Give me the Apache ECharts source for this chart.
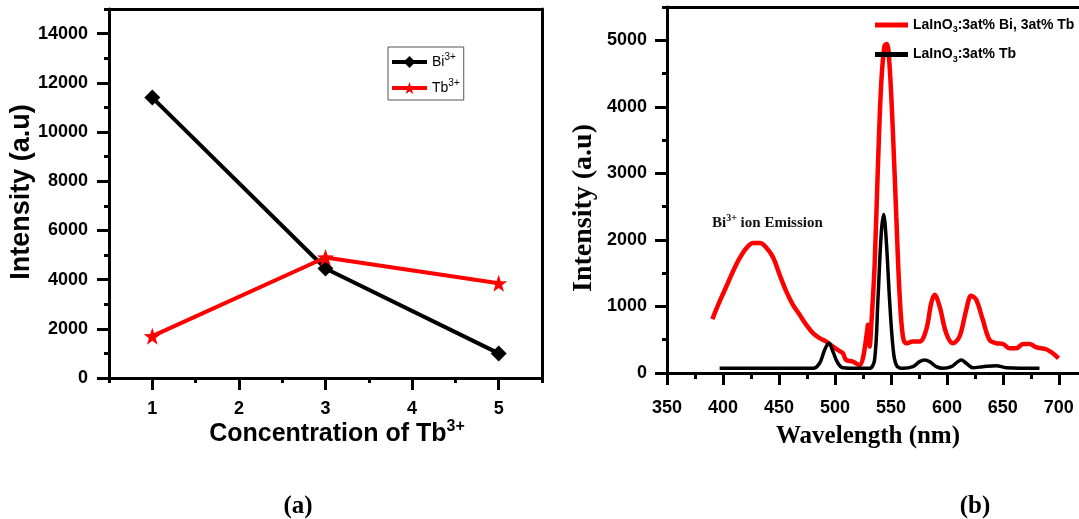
<!DOCTYPE html>
<html>
<head>
<meta charset="utf-8">
<script src="https://cdn.jsdelivr.net/npm/echarts@6/dist/echarts.min.js"></script>
<style>
  html, body { margin: 0; padding: 0; background: #fff; }
  #main { width: 1079px; height: 519px; }
</style>
</head>
<body>
<div id="main"></div>
<script>
// (a) intensity vs Tb concentration
var concentration = [1, 3, 5];
var biIntensity = [11400, 4450, 1000];
var tbIntensity = [1700, 4900, 3850];
var leftXMajor = [1, 2, 3, 4, 5];
var leftYMajor = [0, 2000, 4000, 6000, 8000, 10000, 12000, 14000];

// (b) emission spectra
var redWavelength = [390.5, 397, 403, 409, 415, 421, 427, 433, 439, 445, 450.6, 456.5, 462.5, 468.5, 474.4, 480.4, 486.3, 492.3, 498.2, 504.2, 507, 510, 516, 522, 525, 528.5, 529.5, 531, 532.4, 535.4, 538.4, 541.4, 544.3, 546.4, 548.8, 551.8, 554.8, 557.7, 560.7, 563.7, 569.6, 575.6, 581.5, 586, 589, 593.5, 599.4, 605.4, 611.3, 617.3, 621.7, 626.2, 632.1, 638.1, 644, 650, 656, 662, 668, 673.8, 679.8, 688.7, 694.6, 699.7];
var redIntensity = [809, 1075, 1300, 1528, 1729, 1879, 1955, 1955, 1879, 1729, 1477, 1226, 1025, 874, 724, 598, 523, 472, 397, 330, 300, 196, 171, 121, 221, 598, 724, 397, 698, 1603, 3110, 4367, 4920, 4945, 4618, 3613, 2357, 1201, 548, 447, 472, 472, 648, 1050, 1176, 1000, 598, 447, 548, 950, 1161, 1100, 799, 497, 447, 437, 372, 372, 437, 437, 387, 357, 296, 221];
var blackWavelength = [397, 440, 480.4, 486.3, 490.8, 494.6, 498.2, 502.7, 507, 522, 531, 535.4, 538.4, 541.4, 543.5, 545.8, 548.8, 551.8, 554.8, 560.7, 569.6, 575.6, 580, 584.5, 590.5, 596.4, 604, 609.8, 612.8, 617.3, 623.2, 632.1, 644, 653, 682.7];
var blackIntensity = [70, 70, 70, 146, 347, 450, 322, 146, 80, 70, 70, 196, 1100, 2105, 2382, 2005, 1100, 397, 121, 70, 95, 171, 196, 171, 95, 70, 95, 171, 196, 146, 80, 95, 110, 80, 70];
var rightXMajor = [350, 400, 450, 500, 550, 600, 650, 700];
var rightYMajor = [0, 1000, 2000, 3000, 4000, 5000];

function pairs(xs, ys) {
  var out = [];
  for (var i = 0; i < xs.length; i++) out.push([xs[i], ys[i]]);
  return out;
}

var SANS = '"Liberation Sans", Arial, sans-serif';
var SERIF = '"Liberation Serif", "Times New Roman", serif';
var black = '#000';
var axisLine = { show: true, onZero: false, lineStyle: { color: black, width: 3 } };
var tickLabel = { color: black, fontFamily: SANS, fontWeight: 'bold', fontSize: 18 };
var starPath = 'path://M0,-10 L2.35,-3.2 L9.5,-3.1 L3.8,1.2 L5.9,8.1 L0,4 L-5.9,8.1 L-3.8,1.2 L-9.5,-3.1 L-2.35,-3.2 Z';

var legendNames = {
  'Bi3+': 'Bi{sup|3+}',
  'Tb3+': 'Tb{sup|3+}',
  'LaInO3:3at% Bi, 3at% Tb': 'LaInO{sub|3}:3at% Bi, 3at% Tb',
  'LaInO3:3at% Tb': 'LaInO{sub|3}:3at% Tb'
};

var option = {
  animation: false,
  backgroundColor: '#fff',
  grid: [
    { left: 109, top: 9, width: 433, height: 369 },
    { left: 667, top: 7, width: 412, height: 366 }
  ],
  xAxis: [
    { // (a) main
      gridIndex: 0, type: 'value', position: 'bottom', min: 0.5, max: 5.5, interval: 0.5,
      axisLine: axisLine,
      axisTick: { show: true, length: 5, lineStyle: { color: black, width: 3 } },
      splitLine: { show: false },
      axisLabel: Object.assign({ margin: 22, formatter: function (v) { return v % 1 === 0 ? String(v) : ''; } }, tickLabel)
    },
    { // (a) major ticks
      gridIndex: 0, type: 'value', position: 'bottom', min: 0.5, max: 5.5,
      axisLine: { show: false },
      axisTick: { show: true, length: 12, customValues: leftXMajor, lineStyle: { color: black, width: 3 } },
      axisLabel: { show: false }, splitLine: { show: false }
    },
    { // (a) top border
      gridIndex: 0, type: 'value', position: 'top', min: 0.5, max: 5.5,
      axisLine: axisLine, axisTick: { show: false }, axisLabel: { show: false }, splitLine: { show: false }
    },
    { // (b) main
      gridIndex: 1, type: 'value', position: 'bottom', min: 350, max: 718, interval: 25,
      axisLine: axisLine,
      axisTick: { show: true, length: 6, lineStyle: { color: black, width: 3 } },
      splitLine: { show: false },
      axisLabel: Object.assign({ margin: 26, showMaxLabel: false, formatter: function (v) { return v % 50 === 0 && v <= 700 ? String(v) : ''; } }, tickLabel)
    },
    { // (b) major ticks
      gridIndex: 1, type: 'value', position: 'bottom', min: 350, max: 718,
      axisLine: { show: false },
      axisTick: { show: true, length: 12, customValues: rightXMajor, lineStyle: { color: black, width: 3 } },
      axisLabel: { show: false }, splitLine: { show: false }
    },
    { // (b) top border
      gridIndex: 1, type: 'value', position: 'top', min: 350, max: 718,
      axisLine: axisLine, axisTick: { show: false }, axisLabel: { show: false }, splitLine: { show: false }
    }
  ],
  yAxis: [
    { // (a) main
      gridIndex: 0, type: 'value', position: 'left', min: 0, max: 15000, interval: 1000,
      axisLine: axisLine,
      axisTick: { show: true, length: 5, lineStyle: { color: black, width: 3 } },
      splitLine: { show: false },
      axisLabel: Object.assign({ margin: 21, formatter: function (v) { return v % 2000 === 0 && v < 15000 ? String(v) : ''; } }, tickLabel)
    },
    { // (a) major ticks
      gridIndex: 0, type: 'value', position: 'left', min: 0, max: 15000,
      axisLine: { show: false },
      axisTick: { show: true, length: 12, customValues: leftYMajor, lineStyle: { color: black, width: 3 } },
      axisLabel: { show: false }, splitLine: { show: false }
    },
    { // (a) right border
      gridIndex: 0, type: 'value', position: 'right', min: 0, max: 15000,
      axisLine: axisLine, axisTick: { show: false }, axisLabel: { show: false }, splitLine: { show: false }
    },
    { // (b) main
      gridIndex: 1, type: 'value', position: 'left', min: 0, max: 5500, interval: 500,
      axisLine: axisLine,
      axisTick: { show: true, length: 5, lineStyle: { color: black, width: 3 } },
      splitLine: { show: false },
      axisLabel: Object.assign({ margin: 20, formatter: function (v) { return v % 1000 === 0 ? String(v) : ''; } }, tickLabel)
    },
    { // (b) major ticks
      gridIndex: 1, type: 'value', position: 'left', min: 0, max: 5500,
      axisLine: { show: false },
      axisTick: { show: true, length: 12, customValues: rightYMajor, lineStyle: { color: black, width: 3 } },
      axisLabel: { show: false }, splitLine: { show: false }
    }
  ],
  legend: [
    {
      data: ['Bi3+', 'Tb3+'],
      orient: 'vertical', left: 388, top: 47,
      padding: [5, 4, 5, 2], itemGap: 9, itemWidth: 35, itemHeight: 15,
      borderColor: '#555', borderWidth: 1,
      lineStyle: { width: 4 },
      formatter: function (n) { return legendNames[n]; },
      textStyle: {
        color: black, fontFamily: SANS, fontSize: 14,
        rich: { sup: { fontSize: 10, fontFamily: SANS, padding: [0, 0, 10, 0] } }
      }
    },
    {
      data: ['LaInO3:3at% Bi, 3at% Tb', 'LaInO3:3at% Tb'],
      orient: 'vertical', left: 875, top: 18,
      padding: 0, itemGap: 13, itemWidth: 33, itemHeight: 5, icon: 'rect',
      formatter: function (n) { return legendNames[n]; },
      textStyle: {
        color: black, fontFamily: SANS, fontWeight: 'bold', fontSize: 14,
        rich: { sub: { fontSize: 9, fontFamily: SANS, fontWeight: 'bold', padding: [10, 0, 0, 0] } }
      }
    }
  ],
  series: [
    {
      name: 'Bi3+', type: 'line', xAxisIndex: 0, yAxisIndex: 0,
      data: pairs(concentration, biIntensity),
      symbol: 'diamond', symbolSize: 16,
      lineStyle: { color: black, width: 4 }, itemStyle: { color: black }
    },
    {
      name: 'Tb3+', type: 'line', xAxisIndex: 0, yAxisIndex: 0,
      data: pairs(concentration, tbIntensity),
      symbol: starPath, symbolSize: 17,
      lineStyle: { color: '#ff0000', width: 4 }, itemStyle: { color: '#ff0000' }
    },
    {
      name: 'LaInO3:3at% Bi, 3at% Tb', type: 'line', xAxisIndex: 3, yAxisIndex: 3,
      data: pairs(redWavelength, redIntensity),
      symbol: 'none', smooth: 0.35,
      lineStyle: { color: '#ff0000', width: 4.5 }, itemStyle: { color: '#ff0000' }
    },
    {
      name: 'LaInO3:3at% Tb', type: 'line', xAxisIndex: 3, yAxisIndex: 3,
      data: pairs(blackWavelength, blackIntensity),
      symbol: 'none', smooth: 0.35,
      lineStyle: { color: black, width: 3.5 }, itemStyle: { color: black }
    }
  ],
  graphic: [
    {
      type: 'text', x: 22, y: 192, rotation: Math.PI / 2,
      style: { text: 'Intensity (a.u)', fill: black, font: 'bold 27px ' + SANS, align: 'center', verticalAlign: 'middle' }
    },
    {
      type: 'text', x: 337, y: 434,
      style: {
        text: 'Concentration of Tb{sup|3+}', fill: black, font: 'bold 25px ' + SANS, align: 'center', verticalAlign: 'middle',
        rich: { sup: { font: 'bold 16px ' + SANS, fill: black, padding: [0, 0, 14, 0] } }
      }
    },
    {
      type: 'text', x: 584, y: 208, rotation: Math.PI / 2,
      style: { text: 'Intensity (a.u)', fill: black, font: 'bold 28px ' + SERIF, align: 'center', verticalAlign: 'middle' }
    },
    {
      type: 'text', x: 868, y: 437,
      style: { text: 'Wavelength (nm)', fill: black, font: 'bold 25px ' + SERIF, align: 'center', verticalAlign: 'middle' }
    },
    {
      type: 'text', x: 712, y: 223,
      style: {
        text: 'Bi{sup|3+} ion Emission', fill: '#111', font: 'bold 15px ' + SERIF, align: 'left', verticalAlign: 'middle',
        rich: { sup: { font: 'bold 10px ' + SERIF, fill: '#111', padding: [0, 0, 9, 0] } }
      }
    },
    {
      type: 'text', x: 298, y: 507,
      style: { text: '(a)', fill: black, font: 'bold 25px ' + SERIF, align: 'center', verticalAlign: 'middle' }
    },
    {
      type: 'text', x: 975, y: 507,
      style: { text: '(b)', fill: black, font: 'bold 25px ' + SERIF, align: 'center', verticalAlign: 'middle' }
    }
  ]
};

var myChart = echarts.init(document.getElementById('main'));
myChart.setOption(option, true);
</script>
</body>
</html>
